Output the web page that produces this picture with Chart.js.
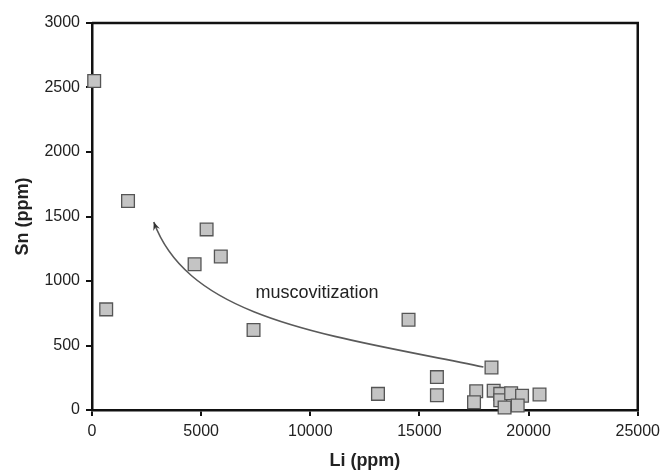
<!DOCTYPE html>
<html>
<head>
<meta charset="utf-8">
<script src="https://cdn.jsdelivr.net/npm/chart.js@4"></script>
<style>
  html, body { margin: 0; padding: 0; background: #fff; }
  #wrap { width: 666px; height: 472px; }
</style>
</head>
<body>
<div id="wrap"><canvas id="chart" width="666" height="472"></canvas></div>
<script>
// Li vs Sn (ppm)
var liValues = [100, 650, 1650, 4700, 5250, 5900, 7400, 13100, 14500, 15800, 15800,
                18300, 17600, 17500, 18400, 18700, 18700, 19200, 19700, 18900, 19500, 20500];
var snValues = [2550, 780, 1620, 1130, 1400, 1190, 620, 125, 700, 255, 115,
                330, 145, 60, 150, 125, 75, 130, 110, 20, 35, 120];
var xTicks = [0, 5000, 10000, 15000, 20000, 25000];
var yTicks = [0, 500, 1000, 1500, 2000, 2500, 3000];

// arrow: start, two control points, tip (data units)
var arrowLi = [17930, 10860, 4470, 2830];
var arrowSn = [333, 581, 698, 1457];
var arrowLabel = 'muscovitization';
var labelAt = [10310, 907];

var points = liValues.map(function (v, i) { return { x: v, y: snValues[i] }; });

var arrowPlugin = {
    id: 'arrow',
    afterDatasetsDraw: function (chart) {
        var xs = chart.scales.x, ys = chart.scales.y, c = chart.ctx;
        var p = arrowLi.map(function (v, i) {
            return [xs.getPixelForValue(v), ys.getPixelForValue(arrowSn[i])];
        });
        c.save();
        c.strokeStyle = '#5a5a5a';
        c.fillStyle = '#333';
        c.lineWidth = 1.6;
        c.beginPath();
        c.moveTo(p[0][0], p[0][1]);
        c.bezierCurveTo(p[1][0], p[1][1], p[2][0], p[2][1], p[3][0], p[3][1]);
        c.stroke();
        // head
        var ang = Math.atan2(p[3][1] - p[2][1], p[3][0] - p[2][0]);
        var len = 9, w = 0.4;
        c.beginPath();
        c.moveTo(p[3][0], p[3][1]);
        c.lineTo(p[3][0] - len * Math.cos(ang - w), p[3][1] - len * Math.sin(ang - w));
        c.lineTo(p[3][0] - len * 0.6 * Math.cos(ang), p[3][1] - len * 0.6 * Math.sin(ang));
        c.lineTo(p[3][0] - len * Math.cos(ang + w), p[3][1] - len * Math.sin(ang + w));
        c.closePath();
        c.fill();
        c.fillStyle = '#222';
        c.font = '18px "Liberation Sans", Arial, sans-serif';
        c.textAlign = 'center';
        c.textBaseline = 'middle';
        c.fillText(arrowLabel, xs.getPixelForValue(labelAt[0]), ys.getPixelForValue(labelAt[1]));
        c.restore();
    }
};

var framePlugin = {
    id: 'frame',
    beforeDatasetsDraw: function (chart) {
        var a = chart.chartArea, c = chart.ctx;
        c.save();
        c.strokeStyle = '#111';
        c.lineWidth = 2.5;
        c.beginPath();
        c.moveTo(a.left, a.top);
        c.lineTo(a.right, a.top);
        c.lineTo(a.right, a.bottom);
        c.stroke();
        c.restore();
    }
};

var ctx = document.getElementById('chart');
var myChart = new Chart(ctx, {
    type: 'scatter',
    data: {
        datasets: [{
            label: 'samples',
            data: points,
            clip: false,
            pointStyle: 'rect',
            pointRadius: 9,
            pointHoverRadius: 9,
            backgroundColor: '#c4c4c4',
            borderColor: '#555',
            borderWidth: 1.3
        }]
    },
    options: {
        responsive: false,
        animation: false,
        layout: { padding: { top: 23, right: 26, left: 0, bottom: 0 } },
        plugins: {
            legend: { display: false },
            tooltip: { enabled: false }
        },
        scales: {
            x: {
                type: 'linear',
                min: 0, max: 25000,
                afterBuildTicks: function (s) { s.ticks = xTicks.map(function (v) { return { value: v }; }); },
                afterFit: function (s) { s.height = 62; },
                ticks: {
                    color: '#222',
                    font: { size: 16, family: '"Liberation Sans", Arial, sans-serif' },
                    padding: 6,
                    maxRotation: 0,
                    callback: function (v) { return String(v); }
                },
                grid: { drawOnChartArea: false, color: '#111', tickLength: 6, lineWidth: 2 },
                border: { color: '#111', width: 2.5 },
                title: {
                    display: true,
                    text: 'Li (ppm)',
                    color: '#222',
                    font: { size: 18, weight: 'bold', family: '"Liberation Sans", Arial, sans-serif' },
                    padding: { top: 0, bottom: 0 }
                }
            },
            y: {
                type: 'linear',
                min: 0, max: 3000,
                afterBuildTicks: function (s) { s.ticks = yTicks.map(function (v) { return { value: v }; }); },
                afterFit: function (s) { s.width = 92; },
                ticks: {
                    color: '#222',
                    font: { size: 16, family: '"Liberation Sans", Arial, sans-serif' },
                    padding: 6,
                    callback: function (v) { return String(v); }
                },
                grid: { drawOnChartArea: false, color: '#111', tickLength: 6, lineWidth: 2 },
                border: { color: '#111', width: 2.5 },
                title: {
                    display: true,
                    text: 'Sn (ppm)',
                    color: '#222',
                    font: { size: 18, weight: 'bold', family: '"Liberation Sans", Arial, sans-serif' },
                    padding: { top: 12, bottom: 0 }
                }
            }
        }
    },
    plugins: [arrowPlugin, framePlugin]
});
</script>
</body>
</html>
